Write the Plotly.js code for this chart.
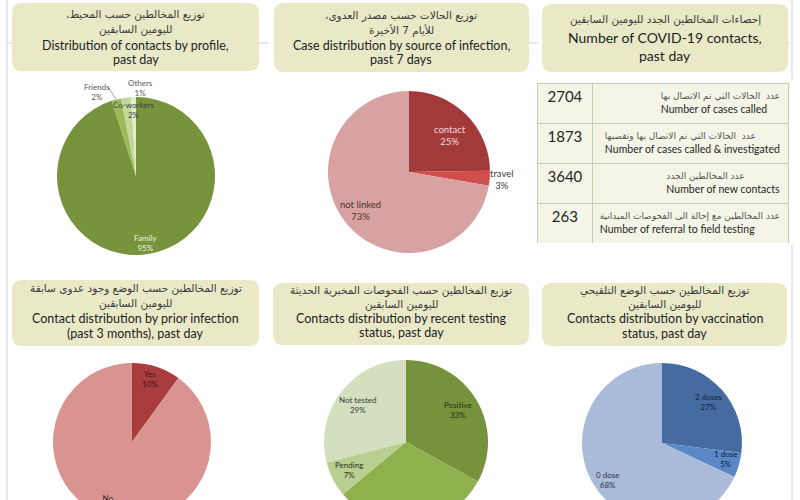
<!DOCTYPE html>
<html>
<head>
<meta charset="utf-8">
<script src="https://cdn.plot.ly/plotly-3.0.1.min.js"></script>
<style>
  html, body { margin: 0; padding: 0; overflow: hidden; background: #fff; }
  #chart { width: 800px; height: 560px; }
</style>
</head>
<body>
<div id="chart"></div>
<script>
// ---- data ----
const profileLabels = ['Family', 'Friends', 'Co-workers', 'Others'];
const profileValues = [95, 2, 2, 1];

const sourceLabels = ['contact', 'travel', 'not linked'];
const sourceValues = [25, 3, 73];

const priorLabels = ['Yes', 'No'];
const priorValues = [10, 90];

const testingLabels = ['Positive', 'Negative', 'Pending', 'Not tested'];
const testingValues = [33, 31, 7, 29];

const vaccLabels = ['2 doses', '1 dose', '0 dose'];
const vaccValues = [27, 5, 68];

const statNumbers = [2704, 1873, 3640, 263];
const statArabic = [
  'عدد  الحالات التي تم الاتصال بها',
  'عدد  الحالات التي تم الاتصال بها وتقصيها',
  'عدد المخالطين الجدد',
  'عدد المخالطين مع إحالة الى الفحوصات الميدانية'
];
const statEnglish = [
  'Number of cases called',
  'Number of cases called & investigated',
  'Number of new contacts',
  'Number of referral to field testing'
];

// ---- page geometry (pixels -> paper) ----
const W = 800, H = 560;
const fx = x => x / W;
const fy = y => 1 - y / H;
const rtl = s => '\u200F' + s + '\u200F';

function pieDomain(cx, cy, r) {
  return { x: [fx(cx - r), fx(cx + r)], y: [fy(cy + r), fy(cy - r)] };
}

function roundRect(x0, y0, x1, y1, r) {
  const p = (x, y) => `${fx(x)},${fy(y)}`;
  return `M${p(x0 + r, y0)} L${p(x1 - r, y0)} Q${p(x1, y0)} ${p(x1, y0 + r)} ` +
         `L${p(x1, y1 - r)} Q${p(x1, y1)} ${p(x1 - r, y1)} L${p(x0 + r, y1)} ` +
         `Q${p(x0, y1)} ${p(x0, y1 - r)} L${p(x0, y0 + r)} Q${p(x0, y0)} ${p(x0 + r, y0)} Z`;
}

function seg(x0, y0, x1, y1, line) {
  return { type: 'line', xref: 'paper', yref: 'paper', x0: fx(x0), x1: fx(x1), y0: fy(y0), y1: fy(y1), line, layer: 'below' };
}
function label(x, y, text, font) {
  return { xref: 'paper', yref: 'paper', x: fx(x), y: fy(y), xanchor: 'center', yanchor: 'middle',
    text, showarrow: false, font };
}

const AR_FONT = 'DejaVu Sans, Noto Sans, sans-serif';
const EN_FONT = 'Lato, Open Sans, sans-serif';

function makePie(labels, values, colors, cx, cy, r) {
  return {
    type: 'pie',
    labels, values,
    sort: false,
    direction: 'clockwise',
    rotation: 0,
    textinfo: 'none',
    hoverinfo: 'none',
    showlegend: false,
    marker: { colors, line: { width: 0 } },
    domain: pieDomain(cx, cy, r)
  };
}

// table: first row goes in the header so no blank header row is drawn
const statText = statArabic.map((a, i) =>
  `<span style="font-family:DejaVu Sans;font-size:9px;color:#555">${rtl(a)}</span><br>${statEnglish[i]}`);
const tableStyle = {
  height: 40,
  align: ['center', 'right'],
  fill: { color: '#f5f5e7' },
  line: { color: '#cbcbae', width: 1 },
  font: { family: EN_FONT, size: [15, 10.5], color: '#262626' }
};

const traces = [
  makePie(profileLabels, profileValues, ['#77933c', '#9bbb59', '#c3d69b', '#e2ead0'], 136, 176, 79),
  makePie(sourceLabels, sourceValues, ['#a33a3a', '#d14e4d', '#d9a2a2'], 409, 172, 81),
  makePie(priorLabels, priorValues, ['#a93d3d', '#d99492'], 132, 442, 79),
  makePie(testingLabels, testingValues, ['#76923c', '#8fb04d', '#b9cf91', '#d3dfbe'], 406, 442, 82),
  makePie(vaccLabels, vaccValues, ['#456ba1', '#5a88c7', '#a9bbd9'], 662, 443, 80),
  {
    type: 'table',
    domain: { x: [fx(537), fx(789)], y: [fy(243), fy(83)] },
    columnwidth: [56, 196],
    header: Object.assign({ values: [[statNumbers[0]], [statText[0]]] }, tableStyle),
    cells: Object.assign({ values: [statNumbers.slice(1), statText.slice(1)] }, tableStyle)
  }
];

// ---- title boxes ----
const boxes = [
  { rect: [12, 3, 259, 71], ar: ['توزيع المخالطين حسب المحيط،', 'لليومين السابقين'], arY: [14, 29],
    en: ['Distribution of contacts by profile,', 'past day'], enY: [45, 60], enSize: 12.5 },
  { rect: [274, 3, 529, 72], ar: ['توزيع الحالات حسب مصدر العدوى،', 'للأيام 7 الأخيرة'], arY: [15, 30],
    en: ['Case distribution by source of infection,', 'past 7 days'], enY: [45, 60], enSize: 12.5 },
  { rect: [542, 4, 788, 72], ar: ['إحصاءات المخالطين الجدد لليومين السابقين'], arY: [20],
    en: ['Number of COVID-19 contacts,', 'past day'], enY: [38, 56], enSize: 14 },
  { rect: [12, 280, 259, 346], ar: ['توزيع المخالطين حسب الوضع وجود عدوى سابقة', 'لليومين السابقين'], arY: [288, 303],
    en: ['Contact distribution by prior infection', '(past 3 months), past day'], enY: [318, 333], enSize: 12.5 },
  { rect: [273, 283, 529, 345], ar: ['توزيع المخالطين حسب الفحوصات المخبرية الحديثة', 'لليومين السابقين'], arY: [290, 304],
    en: ['Contacts distribution by recent testing', 'status, past day'], enY: [318, 332], enSize: 12.5 },
  { rect: [542, 283, 787, 346], ar: ['توزيع المخالطين حسب الوضع التلقيحي', 'لليومين السابقين'], arY: [290, 304],
    en: ['Contacts distribution by vaccination', 'status, past day'], enY: [318, 333], enSize: 12.5 }
];

const greyLine = { color: '#d2d2d2', width: 1 };
const shapes = [
  seg(7, 0, 7, 560, greyLine),
  seg(792, 0, 792, 80, greyLine),
  seg(792, 245, 792, 560, greyLine),
  seg(7, 43, 792, 43, { color: '#cfcfcf', width: 1, dash: 'dash' })
];
const annotations = [];

boxes.forEach(b => {
  shapes.push({ type: 'path', xref: 'paper', yref: 'paper', path: roundRect(...b.rect, 10),
    fillcolor: '#e9e9c8', line: { width: 0 }, layer: 'below' });
  const cx = (b.rect[0] + b.rect[2]) / 2;
  b.ar.forEach((t, i) => annotations.push(label(cx, b.arY[i], rtl(t),
    { family: AR_FONT, size: 10.5, color: '#3a3a3a' })));
  b.en.forEach((t, i) => annotations.push(label(cx, b.enY[i], t,
    { family: EN_FONT, size: b.enSize, color: '#1e1e1e' })));
});

// leader line for "Friends"
shapes.push(Object.assign(seg(108, 87, 116, 99, { color: '#8a8a8a', width: 0.8 }), { layer: 'above' }));

// ---- pie data labels ----
function addLabels(labels, values, pos, colors, size) {
  labels.forEach((l, i) => {
    annotations.push(label(pos[i][0], pos[i][1], `${l}<br>${values[i]}%`,
      { family: EN_FONT, size, color: colors[i] }));
  });
}
addLabels(profileLabels, profileValues, [[145, 243], [97, 92], [133, 110], [140, 88]],
  ['#eef3e2', '#595959', '#404040', '#595959'], 8);
addLabels(sourceLabels, sourceValues, [[450, 135], [502, 179], [360, 210]],
  ['#f6dada', '#404040', '#4a3434'], 9.5);
addLabels(priorLabels, priorValues, [[150, 379], [108, 503]], ['#3a1414', '#3a2020'], 8);
// the Negative label sits below the visible area, as in the source picture
addLabels(testingLabels, testingValues, [[458, 410], [415, 535], [349, 470], [357, 405]],
  ['#2b3314', '#2b3314', '#2b3314', '#3a3a3a'], 8);
addLabels(vaccLabels, vaccValues, [[708, 402], [725, 459], [607, 480]],
  ['#15223d', '#15223d', '#2e3440'], 8);

const layout = {
  width: W, height: H,
  margin: { l: 0, r: 0, t: 0, b: 0 },
  paper_bgcolor: '#ffffff',
  showlegend: false,
  shapes, annotations
};

Plotly.newPlot('chart', traces, layout, { staticPlot: true, displayModeBar: false });
</script>
</body>
</html>
